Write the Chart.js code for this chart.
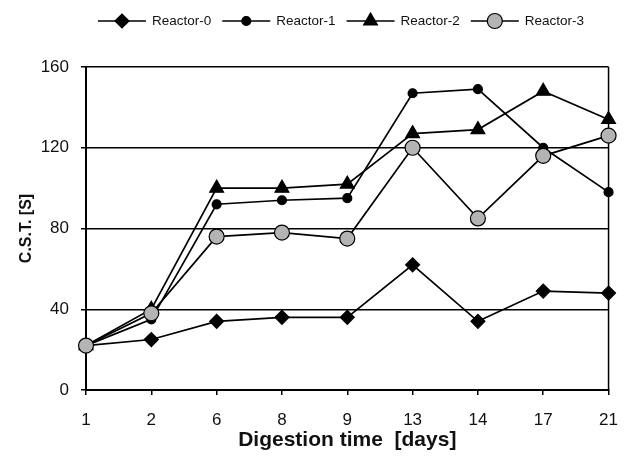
<!DOCTYPE html>
<html>
<head>
<meta charset="utf-8">
<script src="https://cdn.jsdelivr.net/npm/chart.js@4.4.0/dist/chart.umd.min.js"></script>
<style>
  html, body { margin: 0; padding: 0; background: #fff; }
  #wrap { width: 633px; height: 459px; position: relative; }
</style>
</head>
<body>
<div id="wrap"><canvas id="cst"></canvas></div>
<script>
// digestion days on the x axis
const days = ['1', '2', '6', '8', '9', '13', '14', '17', '21'];

// C.S.T. in seconds for each reactor
const reactor0 = [22, 25, 34, 36, 36, 62, 34, 49, 48];
const reactor1 = [22, 35, 92, 94, 95, 147, 149, 120, 98];
const reactor2 = [22, 40, 100, 100, 102, 127, 129, 148, 134];
const reactor3 = [22, 38, 76, 78, 75, 120, 85, 116, 126];

const yTicks = [0, 40, 80, 120, 160];

const FONT = '"Liberation Sans", Arial, Helvetica, sans-serif';

function series(label, data, style, radius, fill, order) {
  return {
    label,
    data,
    order,
    borderColor: '#000',
    borderWidth: 1.7,
    pointStyle: style,
    pointRadius: radius,
    pointHoverRadius: radius,
    pointBackgroundColor: fill,
    pointBorderColor: '#000',
    pointBorderWidth: 1.2,
    tension: 0,
    fill: false
  };
}

// legend with a short line through each marker, drawn above the plot
const lineLegend = {
  id: 'lineLegend',
  afterDraw(chart) {
    const ctx = chart.ctx;
    const y = 21;
    const lineLen = 48;
    let x = 98;
    ctx.save();
    ctx.font = '13.5px ' + FONT;
    ctx.textBaseline = 'middle';
    ctx.textAlign = 'left';
    chart.data.datasets.forEach(ds => {
      ctx.strokeStyle = '#000';
      ctx.lineWidth = 1.7;
      ctx.beginPath();
      ctx.moveTo(x, y);
      ctx.lineTo(x + lineLen, y);
      ctx.stroke();
      ctx.fillStyle = ds.pointBackgroundColor;
      ctx.strokeStyle = '#000';
      ctx.lineWidth = ds.pointBorderWidth;
      Chart.helpers.drawPoint(ctx, {
        pointStyle: ds.pointStyle,
        radius: ds.pointRadius,
        rotation: 0,
        borderWidth: ds.pointBorderWidth
      }, x + lineLen / 2, y);
      ctx.fillStyle = '#111';
      ctx.fillText(ds.label, x + lineLen + 6, y);
      x += lineLen + 6 + ctx.measureText(ds.label).width + 11;
    });
    ctx.restore();
  }
};

// closing line on the right edge of the plot
const rightBorder = {
  id: 'rightBorder',
  beforeDatasetsDraw(chart) {
    const { ctx, chartArea } = chart;
    ctx.save();
    ctx.strokeStyle = '#000';
    ctx.lineWidth = 1.5;
    ctx.beginPath();
    ctx.moveTo(chartArea.right, chartArea.top);
    ctx.lineTo(chartArea.right, chartArea.bottom);
    ctx.stroke();
    ctx.restore();
  }
};

new Chart(document.getElementById('cst').getContext('2d'), {
  type: 'line',
  data: {
    labels: days,
    datasets: [
      series('Reactor-0', reactor0, 'rectRot', 7, '#000', 3),
      series('Reactor-1', reactor1, 'circle', 4.5, '#000', 2),
      series('Reactor-2', reactor2, 'triangle', 8, '#000', 1),
      series('Reactor-3', reactor3, 'circle', 7.5, '#b4b4b4', 0)
    ]
  },
  options: {
    responsive: true,
    maintainAspectRatio: false,
    devicePixelRatio: 1,
    animation: false,
    layout: { padding: { top: 67, right: 9, left: 0, bottom: 0 } },
    plugins: {
      legend: { display: false },
      tooltip: { enabled: false }
    },
    scales: {
      x: {
        offset: false,
        afterFit(scale) { scale.height = 69; },
        border: { display: true, color: '#000', width: 2 },
        grid: { drawOnChartArea: false, drawTicks: true, tickLength: 5, color: '#000', lineWidth: 1.5 },
        ticks: { color: '#111', padding: 15, font: { family: FONT, size: 17 }, maxRotation: 0 },
        title: {
          display: true,
          text: 'Digestion time  [days]',
          color: '#111',
          font: { family: FONT, size: 21, weight: 'bold' },
          padding: { top: 0, bottom: 6 }
        }
      },
      y: {
        min: yTicks[0],
        max: yTicks[yTicks.length - 1],
        afterFit(scale) { scale.width = 86; },
        border: { display: true, color: '#000', width: 2 },
        grid: { color: '#000', lineWidth: 1.5, tickLength: 5 },
        ticks: {
          stepSize: yTicks[1] - yTicks[0],
          color: '#111',
          padding: 12,
          font: { family: FONT, size: 17 }
        },
        title: {
          display: true,
          text: 'C.S.T. [S]',
          color: '#111',
          font: { family: FONT, size: 16, weight: 'bold' },
          padding: { top: 17, bottom: 0 }
        }
      }
    }
  },
  plugins: [lineLegend, rightBorder]
});
</script>
</body>
</html>
